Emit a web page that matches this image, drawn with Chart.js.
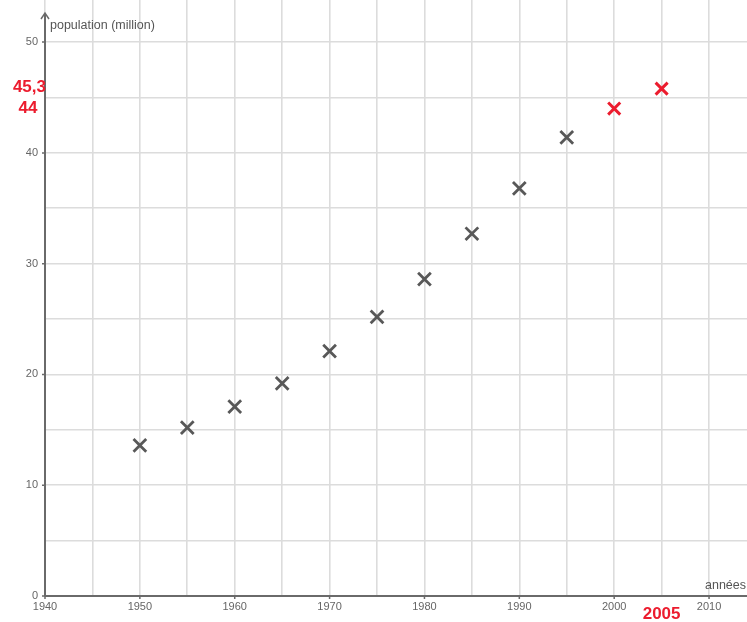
<!DOCTYPE html>
<html>
<head>
<meta charset="utf-8">
<script src="https://cdn.jsdelivr.net/npm/chart.js@4/dist/chart.umd.min.js"></script>
<style>
  html, body { margin: 0; padding: 0; background: #fff; }
  #wrap { width: 747px; height: 622px; }
</style>
</head>
<body>
<div id="wrap"><canvas id="popChart"></canvas></div>
<script>
// ----- DATA -----

const years = [1950, 1955, 1960, 1965, 1970, 1975, 1980, 1985, 1990, 1995];
const population = [13.6, 15.2, 17.1, 19.2, 22.1, 25.2, 28.6, 32.7, 36.8, 41.4];

const redYears = [2000, 2005];
const redPopulation = [44.0, 45.8];
const redYLabels = ["44", "45,3"];
const redXLabel = "2005";

const xTicks = [1940, 1950, 1960, 1970, 1980, 1990, 2000, 2010];
const yTicks = [0, 10, 20, 30, 40, 50];

const yTitle = "population (million)";
const xTitle = "années";

// ----- STYLE -----

const FONT = "'Liberation Sans', Arial, sans-serif";
const GRAY = "#585858";
const RED = "#ec1c2e";
const GRID = "#dcdcdc";

// ----- OVERLAY PLUGIN: axes, arrows, labels -----

const overlay = {
  id: "overlay",
  afterDraw(chart) {
    const ctx = chart.ctx;
    const xs = chart.scales.x;
    const ys = chart.scales.y;
    const x0 = xs.getPixelForValue(1940);
    const y0 = ys.getPixelForValue(0);

    ctx.save();
    // axis lines
    ctx.strokeStyle = "#6a6a6a";
    ctx.lineWidth = 2;
    ctx.beginPath();
    ctx.moveTo(x0, y0);
    ctx.lineTo(x0, 14);
    ctx.moveTo(x0, y0);
    ctx.lineTo(chart.width, y0);
    ctx.stroke();

    // arrow on y axis
    ctx.lineWidth = 1.5;
    ctx.beginPath();
    ctx.moveTo(x0 - 4, 19);
    ctx.lineTo(x0, 13);
    ctx.lineTo(x0 + 4, 19);
    ctx.stroke();

    // tick marks
    ctx.beginPath();
    yTicks.forEach((v) => {
      const p = ys.getPixelForValue(v);
      ctx.moveTo(x0 - 3, p);
      ctx.lineTo(x0, p);
    });
    xTicks.forEach((v) => {
      const p = xs.getPixelForValue(v);
      ctx.moveTo(p, y0);
      ctx.lineTo(p, y0 + 3);
    });
    ctx.stroke();

    // tick labels
    ctx.fillStyle = "#666";
    ctx.font = "11px " + FONT;
    ctx.textAlign = "right";
    ctx.textBaseline = "middle";
    yTicks.forEach((v) => {
      ctx.fillText(String(v), x0 - 7, ys.getPixelForValue(v));
    });
    ctx.textAlign = "center";
    ctx.textBaseline = "top";
    xTicks.forEach((v) => {
      ctx.fillText(String(v), xs.getPixelForValue(v), y0 + 5);
    });

    // axis titles
    ctx.fillStyle = "#555";
    ctx.font = "12.5px " + FONT;
    ctx.textAlign = "left";
    ctx.textBaseline = "middle";
    ctx.fillText(yTitle, x0 + 5, 26);
    ctx.fillText(xTitle, 705, y0 - 10);

    // red value labels
    ctx.fillStyle = RED;
    ctx.font = "bold 17px " + FONT;
    ctx.textAlign = "right";
    ctx.fillText(redYLabels[1], x0 + 1, ys.getPixelForValue(redPopulation[1]) - 1);
    ctx.textAlign = "center";
    ctx.fillText(redYLabels[0], 28, ys.getPixelForValue(redPopulation[0]));
    ctx.fillText(redXLabel, xs.getPixelForValue(redYears[1]), y0 + 18);
    ctx.restore();
  },
};

// ----- CHART -----

const ctx = document.getElementById("popChart").getContext("2d");

new Chart(ctx, {
  type: "scatter",
  data: {
    datasets: [
      {
        data: years.map((y, i) => ({ x: y, y: population[i] })),
        pointStyle: "crossRot",
        pointRadius: 9,
        pointBorderWidth: 2.8,
        borderColor: GRAY,
        backgroundColor: GRAY,
      },
      {
        data: redYears.map((y, i) => ({ x: y, y: redPopulation[i] })),
        pointStyle: "crossRot",
        pointRadius: 8.5,
        pointBorderWidth: 3,
        borderColor: RED,
        backgroundColor: RED,
      },
    ],
  },
  options: {
    responsive: true,
    maintainAspectRatio: false,
    animation: false,
    layout: { padding: 0, autoPadding: false },
    plugins: {
      legend: { display: false },
      tooltip: { enabled: false },
    },
    scales: {
      x: {
        type: "linear",
        min: 1940,
        max: 2014,
        afterFit: (s) => { s.height = 26; },
        border: { display: false },
        grid: { color: GRID, lineWidth: 1.6, drawTicks: false },
        ticks: { stepSize: 5, includeBounds: false, display: false },
      },
      y: {
        min: 0,
        max: 53.8,
        afterFit: (s) => { s.width = 45; },
        border: { display: false },
        grid: { color: GRID, lineWidth: 1.6, drawTicks: false },
        ticks: { stepSize: 5, includeBounds: false, display: false },
      },
    },
  },
  plugins: [overlay],
});
</script>
</body>
</html>
